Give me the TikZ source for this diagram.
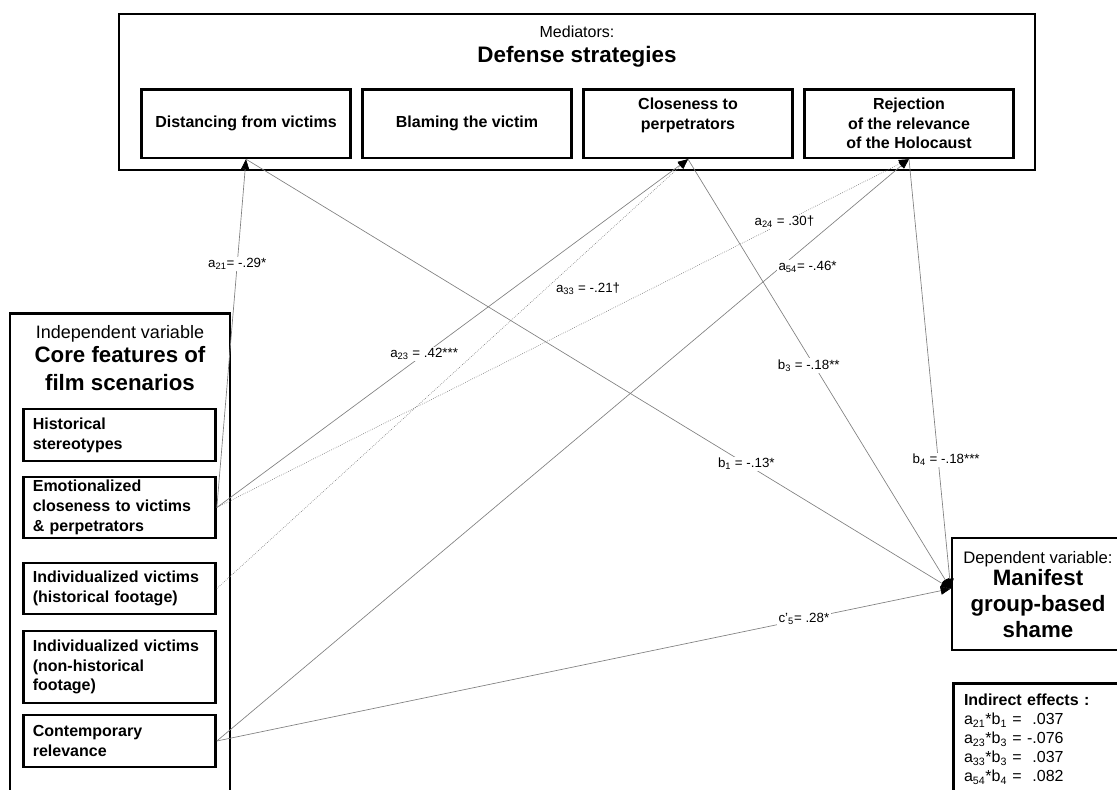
\documentclass[tikz,border=0pt]{standalone}
\usepackage{fontspec}
\setmainfont{Liberation Sans}
\usepackage{tikz}
\usetikzlibrary{positioning,arrows.meta}

\newcommand{\fsz}[2]{\fontsize{#1}{#2}\selectfont}

\begin{document}
\begin{tikzpicture}[
    x=0.75pt, y=-0.75pt,
    every node/.style={align=center},
    groupbox/.style={rectangle, draw=black, line width=2pt},
    medbox/.style={groupbox, minimum width=157pt, minimum height=51.5pt, inner sep=2pt, font=\fsz{12}{14.6}\bfseries},
    featbox/.style={groupbox, text width=130pt, align=left, inner xsep=7pt, inner ysep=1pt, font=\fsz{12}{14.8}\bfseries},
    link/.style={draw=gray, line width=.5pt},
    dotlink/.style={link, densely dotted},
    arrow/.style={-{Triangle[length=7.5pt,width=6pt,color=black]}},
    coef/.style={fill=white, inner sep=1pt, font=\fsz{10}{12}}
  ]
  \useasboundingbox (0,0) rectangle (1117,789);
  \clip (0,0) rectangle (1117,789);

  % Mediators
  \node[groupbox, minimum width=687pt, minimum height=117pt] (med) at (577,92) {};
  \node[font=\fsz{12}{14}] (medlbl) at (577,32) {Mediators:};
  \node[font=\fsz{16.8}{20}\bfseries] (medtitle) at (577,57) {Defense strategies};
  \node[medbox] (dist) at (246,123.5) {Distancing from victims};
  \node[medbox, right=6.75pt of dist] (blame) {Blaming the victim};
  \node[medbox, right=6.75pt of blame] (close) {Closeness to\\perpetrators\\\mbox{}};
  \node[medbox, right=6.75pt of close] (rej) {Rejection\\of the relevance\\of the Holocaust};

  % Independent variable
  \node[groupbox, minimum width=165pt, minimum height=380pt] (iv) at (120,566.5) {};
  \node[font=\fsz{13.5}{16}] (ivlbl) at (120,334) {Independent variable};
  \node[font=\fsz{16.7}{21}\bfseries] (ivtitle) at (120,369) {Core features of\\film scenarios};
  \node[featbox, minimum height=39pt] (hist) at (119.5,435) {Historical\\stereotypes};
  \node[featbox, minimum height=45.75pt, below=10pt of hist] (emo) {Emotionalized\\closeness to victims\\\& perpetrators};
  \node[featbox, minimum height=38.25pt, below=16.75pt of emo] (indh) {Individualized victims\\(historical footage)};
  \node[featbox, minimum height=54pt, below=10.75pt of indh] (indn) {Individualized victims\\(non-historical\\footage)};
  \node[featbox, minimum height=39pt, below=7pt of indn] (cont) {Contemporary\\relevance};

  % Dependent variable
  \node[groupbox, minimum width=129pt, minimum height=84pt] (shame) at (1038,594) {};
  \node[font=\fsz{12.5}{15}] (dvlbl) at (1038,559) {Dependent variable:};
  \node[font=\fsz{16.7}{19.5}\bfseries] (dvtitle) at (1038,604) {Manifest\\group-based\\shame};
  \coordinate (shamein) at ([yshift=4pt]shame.west);
  \node[groupbox, anchor=north west, text width=113pt, align=left, inner xsep=8pt, inner ysep=8pt, font=\fsz{12}{14.25}] (indirect) at (952,682)
    {\textbf{Indirect effects :}\\
     a\textsubscript{21}*b\textsubscript{1} = \hphantom{-}.037\\
     a\textsubscript{23}*b\textsubscript{3} = -.076\\
     a\textsubscript{33}*b\textsubscript{3} = \hphantom{-}.037\\
     a\textsubscript{54}*b\textsubscript{4} = \hphantom{-}.082};

  % Paths (dotted ones first so that no line runs over a label)
  \draw[dotlink, arrow] (emo.east) -- (rej.south) node[coef, pos=.82] {a\textsubscript{24} = .30\textdagger};
  \draw[dotlink, arrow] (indh.east) -- (close.south) node[coef, pos=.72, xshift=24pt, yshift=-7pt] {a\textsubscript{33} = -.21\textdagger};
  \draw[link, arrow] (emo.east) -- (close.south) node[coef, pos=.44] {a\textsubscript{23} = .42***};
  \draw[link, arrow] (emo.east) -- (dist.south) node[coef, pos=.70] {a\textsubscript{21}= -.29*};
  \draw[link, arrow] (cont.east) -- (rej.south) node[coef, pos=.815, xshift=20pt] {a\textsubscript{54}= -.46*};
  \draw[link, arrow] (dist.south) -- (shamein) node[coef, pos=.71] {b\textsubscript{1} = -.13*};
  \draw[link, arrow] (close.south) -- (shamein) node[coef, pos=.48, xshift=-4pt] {b\textsubscript{3} = -.18**};
  \draw[link, arrow] (rej.south) -- (shamein) node[coef, pos=.70, xshift=6pt] {b\textsubscript{4} = -.18***};
  \draw[link, arrow] (cont.east) -- (shamein) node[coef, pos=.80] {c'\textsubscript{5}= .28*};
\end{tikzpicture}
\end{document}
